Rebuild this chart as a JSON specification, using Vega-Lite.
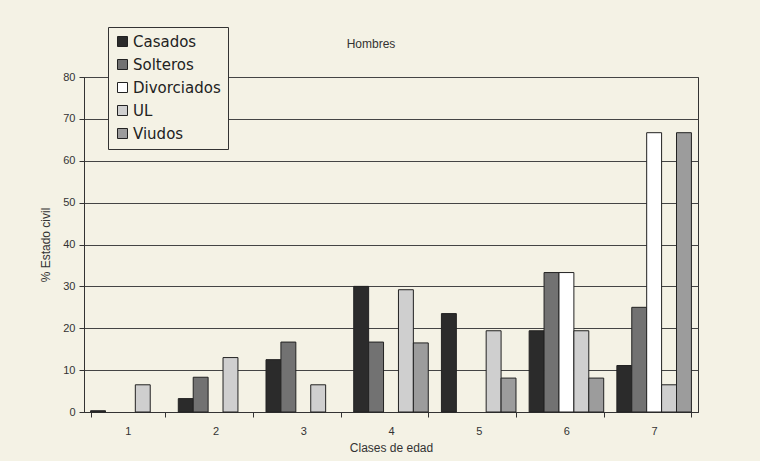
{
  "$schema": "https://vega.github.io/schema/vega-lite/v6.json",
  "width": 614,
  "height": 335,
  "autosize": "none",
  "padding": {"left": 84, "top": 77, "right": 62, "bottom": 49},
  "background": "#f4f2e5",
  "title": {"text": "Hombres", "fontSize": 12, "font": "Liberation Sans", "fontWeight": "normal", "color": "#333", "offset": -24, "dx": -20},
  "data": {"values": [
    {"clase": "1", "estado": "Casados", "valor": 0.3},
    {"clase": "1", "estado": "Solteros", "valor": 0},
    {"clase": "1", "estado": "Divorciados", "valor": 0},
    {"clase": "1", "estado": "UL", "valor": 6.5},
    {"clase": "1", "estado": "Viudos", "valor": 0},
    {"clase": "2", "estado": "Casados", "valor": 3.2},
    {"clase": "2", "estado": "Solteros", "valor": 8.3},
    {"clase": "2", "estado": "Divorciados", "valor": 0},
    {"clase": "2", "estado": "UL", "valor": 13},
    {"clase": "2", "estado": "Viudos", "valor": 0},
    {"clase": "3", "estado": "Casados", "valor": 12.5},
    {"clase": "3", "estado": "Solteros", "valor": 16.7},
    {"clase": "3", "estado": "Divorciados", "valor": 0},
    {"clase": "3", "estado": "UL", "valor": 6.5},
    {"clase": "3", "estado": "Viudos", "valor": 0},
    {"clase": "4", "estado": "Casados", "valor": 30},
    {"clase": "4", "estado": "Solteros", "valor": 16.7},
    {"clase": "4", "estado": "Divorciados", "valor": 0},
    {"clase": "4", "estado": "UL", "valor": 29.2},
    {"clase": "4", "estado": "Viudos", "valor": 16.5},
    {"clase": "5", "estado": "Casados", "valor": 23.5},
    {"clase": "5", "estado": "Solteros", "valor": 0},
    {"clase": "5", "estado": "Divorciados", "valor": 0},
    {"clase": "5", "estado": "UL", "valor": 19.4},
    {"clase": "5", "estado": "Viudos", "valor": 8.1},
    {"clase": "6", "estado": "Casados", "valor": 19.4},
    {"clase": "6", "estado": "Solteros", "valor": 33.3},
    {"clase": "6", "estado": "Divorciados", "valor": 33.3},
    {"clase": "6", "estado": "UL", "valor": 19.4},
    {"clase": "6", "estado": "Viudos", "valor": 8.1},
    {"clase": "7", "estado": "Casados", "valor": 11.1},
    {"clase": "7", "estado": "Solteros", "valor": 25},
    {"clase": "7", "estado": "Divorciados", "valor": 66.7},
    {"clase": "7", "estado": "UL", "valor": 6.5},
    {"clase": "7", "estado": "Viudos", "valor": 66.7}
  ]},
  "mark": {"type": "bar", "stroke": "#222", "strokeWidth": 1},
  "encoding": {
    "x": {
      "field": "clase", "type": "nominal",
      "scale": {"paddingInner": 0.15, "paddingOuter": 0.075},
      "axis": {"title": "Clases de edad", "labelAngle": 0, "labelFontSize": 11, "titleFontSize": 12, "titleFontWeight": "normal", "labelFont": "Liberation Sans", "titleFont": "Liberation Sans", "labelColor": "#333", "titleColor": "#333", "domainColor": "#333", "tickColor": "#333", "tickBand": "extent", "tickSize": 5, "labelPadding": 8, "titlePadding": 6}
    },
    "xOffset": {"field": "estado", "type": "nominal", "sort": ["Casados", "Solteros", "Divorciados", "UL", "Viudos"], "scale": {"paddingInner": 0}},
    "y": {
      "field": "valor", "type": "quantitative",
      "scale": {"domain": [0, 80]},
      "axis": {"title": "% Estado civil", "values": [0, 10, 20, 30, 40, 50, 60, 70, 80], "labelFontSize": 11, "titleFontSize": 12, "titleFontWeight": "normal", "labelFont": "Liberation Sans", "titleFont": "Liberation Sans", "labelColor": "#333", "titleColor": "#333", "domainColor": "#333", "tickColor": "#333", "gridColor": "#444", "gridWidth": 1, "tickSize": 5, "labelPadding": 4, "titlePadding": 10}
    },
    "strokeOpacity": {"condition": {"test": "datum.valor > 0", "value": 1}, "value": 0},
    "fill": {
      "field": "estado", "type": "nominal",
      "sort": ["Casados", "Solteros", "Divorciados", "UL", "Viudos"],
      "scale": {"domain": ["Casados", "Solteros", "Divorciados", "UL", "Viudos"], "range": ["#2b2b2b", "#727272", "#ffffff", "#cfcfcf", "#9c9c9c"]},
      "legend": {"title": null, "orient": "none", "legendX": 24, "legendY": -50, "padding": 7, "strokeColor": "#333", "fillColor": "#f4f2e5", "symbolType": "square", "symbolSize": 100, "symbolStrokeColor": "#222", "symbolStrokeWidth": 1, "labelFontSize": 15, "labelFont": "DejaVu Sans", "labelColor": "#222", "rowPadding": 7, "labelOffset": 3}
    }
  },
  "config": {
    "view": {"stroke": "#333", "strokeWidth": 1}
  }
}
